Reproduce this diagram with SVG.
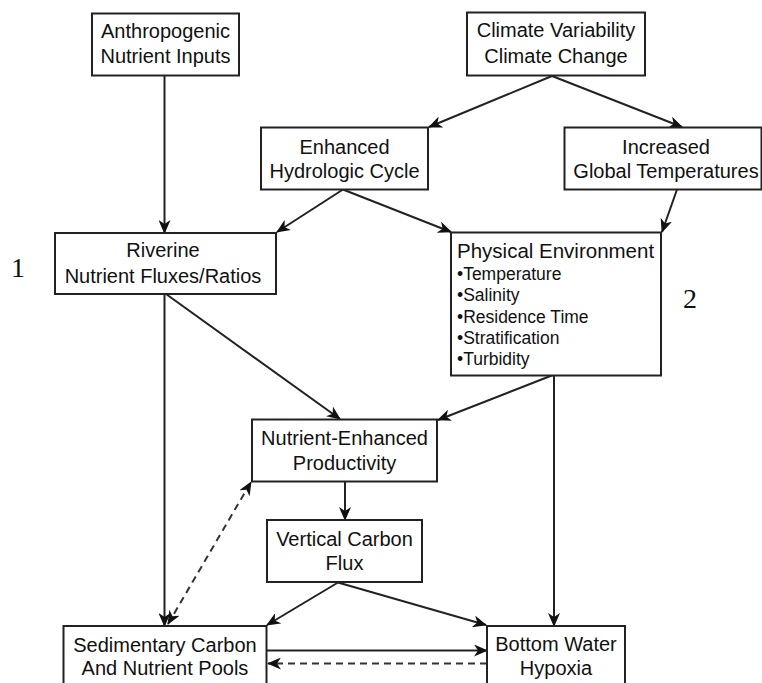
<svg xmlns="http://www.w3.org/2000/svg" width="762" height="683" viewBox="0 0 762 683">
<style>
.box{fill:#fff;stroke:#222;stroke-width:2}
.t{font-family:"Liberation Sans",Arial,sans-serif;font-size:20px;fill:#111;text-anchor:middle}
.b{font-family:"Liberation Sans",Arial,sans-serif;font-size:17.5px;fill:#111}
.h{font-family:"Liberation Sans",Arial,sans-serif;font-size:20.5px;fill:#111}
.n{font-family:"Liberation Serif","Times New Roman",serif;font-size:28px;fill:#111}
.c{stroke:#222;stroke-width:2;fill:none;marker-end:url(#ah)}
.d{stroke:#333;stroke-width:2;fill:none;stroke-dasharray:7,5;marker-end:url(#ah)}
</style>
<defs>
<marker id="ah" markerUnits="userSpaceOnUse" markerWidth="14" markerHeight="12" refX="13" refY="6" orient="auto">
<path d="M0,0 L14,6 L0,12 L4,6 z" fill="#111"/>
</marker>
<marker id="ahs" markerUnits="userSpaceOnUse" markerWidth="14" markerHeight="12" refX="13" refY="6" orient="auto-start-reverse">
<path d="M0,0 L14,6 L0,12 L4,6 z" fill="#111"/>
</marker>
</defs>
<rect width="762" height="683" fill="#fff"/>
<g id="connectors">
<line class="c" x1="164.5" y1="75" x2="164.5" y2="233"/>
<line class="c" x1="552" y1="76" x2="429" y2="127"/>
<line class="c" x1="552" y1="76" x2="682" y2="127"/>
<line class="c" x1="343" y1="189.5" x2="277" y2="232"/>
<line class="c" x1="343" y1="189.5" x2="451" y2="232"/>
<line class="c" x1="677" y1="189.5" x2="662" y2="232"/>
<line class="c" x1="164.5" y1="294" x2="164.5" y2="626"/>
<line class="c" x1="166" y1="294" x2="340" y2="419"/>
<line class="c" x1="553" y1="375" x2="438" y2="420"/>
<line class="c" x1="554" y1="375" x2="554" y2="626"/>
<line class="c" x1="345" y1="481" x2="345" y2="520"/>
<line class="c" x1="338" y1="582.5" x2="267" y2="625"/>
<line class="c" x1="338" y1="582.5" x2="486" y2="625"/>
<line class="c" x1="267" y1="650.5" x2="487" y2="650.5"/>
<line class="d" x1="487" y1="663.5" x2="268" y2="663.5"/>
<line class="d" x1="168" y1="624" x2="251" y2="482" style="marker-start:url(#ahs)"/>
</g>
<g id="anthropogenic">
<rect class="box" x="92" y="13.5" width="147" height="62"/>
<text class="t" x="165.5" y="38">Anthropogenic</text>
<text class="t" x="165.5" y="63">Nutrient Inputs</text>
</g>
<g id="climate">
<rect class="box" x="467" y="12.5" width="178" height="63"/>
<text class="t" x="556" y="37">Climate Variability</text>
<text class="t" x="556" y="63">Climate Change</text>
</g>
<g id="hydrologic">
<rect class="box" x="261" y="127.5" width="167" height="62"/>
<text class="t" x="344.5" y="154">Enhanced</text>
<text class="t" x="344.5" y="178">Hydrologic Cycle</text>
</g>
<g id="temperatures">
<rect class="box" x="564.5" y="127.5" width="197" height="62"/>
<text class="t" x="666" y="154">Increased</text>
<text class="t" x="666" y="178">Global Temperatures</text>
</g>
<g id="riverine">
<rect class="box" x="55" y="233" width="221" height="61"/>
<text class="t" x="163" y="257">Riverine</text>
<text class="t" x="163" y="283">Nutrient Fluxes/Ratios</text>
</g>
<text class="n" x="11" y="277">1</text>
<g id="physical">
<rect class="box" x="451" y="232.5" width="210" height="143"/>
<text class="h" x="457" y="258">Physical Environment</text>
<text class="b" x="457" y="279.5">•Temperature</text>
<text class="b" x="457" y="301">•Salinity</text>
<text class="b" x="457" y="323">•Residence Time</text>
<text class="b" x="457" y="343.5">•Stratification</text>
<text class="b" x="457" y="365">•Turbidity</text>
</g>
<text class="n" x="683" y="308">2</text>
<g id="productivity">
<rect class="box" x="252" y="419.5" width="185" height="62"/>
<text class="t" x="344.5" y="445">Nutrient-Enhanced</text>
<text class="t" x="344.5" y="470">Productivity</text>
</g>
<g id="vertical">
<rect class="box" x="267" y="520" width="155" height="62"/>
<text class="t" x="344.5" y="546">Vertical Carbon</text>
<text class="t" x="344.5" y="570">Flux</text>
</g>
<g id="sedimentary">
<rect class="box" x="63.5" y="626" width="203" height="70"/>
<text class="t" x="165" y="652">Sedimentary Carbon</text>
<text class="t" x="165" y="675">And Nutrient Pools</text>
</g>
<g id="hypoxia">
<rect class="box" x="487" y="626" width="138" height="70"/>
<text class="t" x="556" y="651">Bottom Water</text>
<text class="t" x="556" y="675">Hypoxia</text>
</g>
</svg>
